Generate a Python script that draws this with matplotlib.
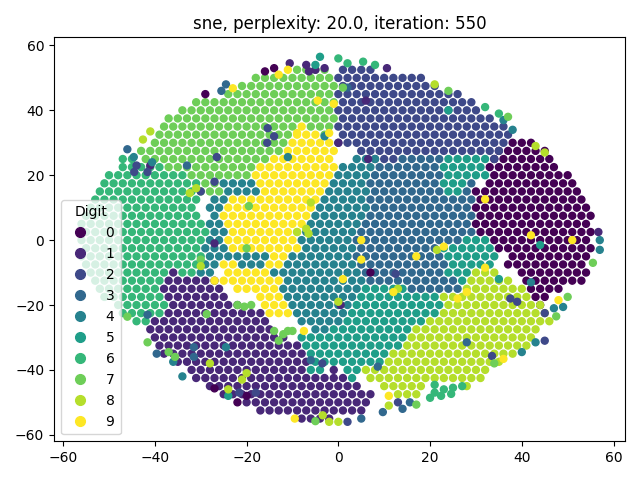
import matplotlib
matplotlib.use("Agg")
import matplotlib.pyplot as plt
import numpy as np

TITLE = "sne, perplexity: 20.0, iteration: 550"

d0 = {
30:[38,40,42],27.5:[35,37,39,41,43,45],25:[34,36,38,40,42,44,46],22.5:[33,35,37,39,41,43,45,47],
20:[34,36,38,40,42,44,46,48,50],17.5:[33,35,37,39,41,43,45,47,49,51],15:[30,32,34,36,38,40,42,44,46,48,50,52],
12.5:[31,33,35,37,39,41,43,45,47,49,51,53],10:[30,32,34,36,38,40,42,44,46,48,50,52,54],
7.5:[31,33,35,37,39,41,43,45,47,49,51,53,55],5:[30,32,34,36,38,40,42,44,46,48,50,52,54],
2.5:[31,33,35,37,39,41,43,45,47,49,51,53,55],0:[34,36,38,40,42,44,46,48,50,52,54],
-2.5:[35,37,39,41,43,45,47,49,51,53,55],-5:[38,40,42,44,46,48,50,52,54],-7.5:[37,39,41,43,45,47,49,51,53],
-10:[40,42,44,46,48,50,52,54],-12.5:[41,43,45,47,49,51,53],-15:[42,44,46,48],-17.5:[43,45],-20:[44]}
d1 = {
-10:[-36],-12.5:[-37,-35,-33,-31,-29,-27],-15:[-38,-36,-34,-32,-30,-28,-26],
-17.5:[-37,-35,-33,-31,-29,-27,-25],-20:[-36,-34,-32,-30,-28,-26,-24,-22],
-22.5:[-37,-35,-33,-31,-29,-27,-25,-23,-21,-19,-17],-25:[-40,-38,-36,-34,-32,-30,-28,-26,-24,-22,-20,-18,-16],
-27.5:[-41,-39,-37,-35,-33,-31,-29,-27,-25,-23,-21,-19,-17,-15],
-30:[-40,-38,-36,-34,-32,-30,-28,-26,-24,-22,-20,-18,-16,-14,-12],
-32.5:[-39,-37,-35,-33,-31,-29,-27,-25,-23,-21,-19,-17,-15,-13,-11,-9],
-35:[-38,-36,-34,-32,-30,-28,-26,-24,-22,-20,-18,-16,-14,-12,-10,-8],
-37.5:[-35,-33,-31,-29,-27,-25,-23,-21,-19,-17,-15,-13,-11,-9,-7],
-40:[-32,-30,-28,-26,-24,-22,-20,-18,-16,-14,-12,-10,-8,-1],
-42.5:[-31,-29,-27,-25,-23,-21,-19,-17,-15,-13,-11,-9,-7,-5,-3,-1,1],
-45:[-28,-26,-24,-22,-20,-18,-16,-14,-12,-10,-8,-6,-4,-2,0,2,4],
-47.5:[-25,-23,-21,-19,-17,-15,-13,-11,-9,-7,-5,-3,-1,1,3,5,7],
-50:[-20,-18,-16,-14,-12,-10,-8,-6,-4,-2,0,2,4,6],
-52.5:[-17,-15,-13,-11,-9,-7,-5,-3,-1,1,3,5],-55:[-8,-6,-4,-2]}
d2 = {
52.5:[1,3,5,7],50:[0,2,4,6,8,10,12,14,16,18],47.5:[1,3,5,7,9,11,13,15,17,19,21],
45:[0,2,4,6,8,10,12,14,16,18,20,22,24,26],42.5:[1,3,5,7,9,11,13,15,17,19,21,23,25,27,29],
40:[0,2,4,6,8,10,12,14,16,18,20,22,24,26,28,30],37.5:[1,3,5,7,9,11,13,15,17,19,21,23,25,27,29,31,33],
35:[0,2,4,6,8,10,12,14,16,18,20,22,24,26,28,30,32,34,36],32.5:[1,3,5,7,9,11,13,15,17,19,21,23,25,27,29,31,33,35,37],
30:[0,2,4,6,8,10,12,14,16,18,20,22,24,26,28,30,32,34,36],27.5:[5,7,9,11,13,15,17,19,21,23,25,27,29,31,33,35],
25:[8,10,12,34]}
d3 = {
25:[14,16,18,20,22],22.5:[9,11,13,15,17,19,21],20:[8,10,12,14,16,18,20,22],17.5:[7,9,11,13,15,17,19,21,29],
15:[8,10,12,14,16,18,20,22,28],12.5:[7,9,11,13,15,17,19,21,23,25,27,29],10:[8,10,12,14,16,18,20,22,24,26,28],
7.5:[7,9,11,13,15,17,19,21,23,25,27,29],5:[6,8,10,12,14,16,18,20,22,24,26,28],
2.5:[5,7,9,11,13,15,17,19,21,23,25,27,29],0:[4,6,8,10,12,14,16,18,20,22,24,26],
-2.5:[5,7,9,11,13,15,17,19,21],-5:[4,6,8,10,12,14,16,18,20,22],-7.5:[5,7,9,11,13,15,17,19,21,23],
-10:[6,8,10,12,14,16,18,20,22],-12.5:[7,9,11,13,15,17,19,21,23,25],-15:[16,18,20,22,24,26]}
d4 = {
25:[4,6,8],22.5:[1,3,5,7],20:[0,2,4,6],17.5:[-25,-23,-21,-19,-1,1,3,5],15:[-24,-22,-20,-18,-2,0,2,4,6],
12.5:[-27,-25,-3,-1,1,3,5],10:[-28,-26,-4,-2,0,2,4,6],7.5:[-27,-5,-3,-1,1,3,5],5:[-28,-26,-6,-4,-2,0,2,4],
2.5:[-27,-25,-7,-5,-3,-1,1,3],0:[-28,-26,-8,-6,-4,-2,0,2],-2.5:[-29,-27,-25,-7,-5,-3,-1,1,3],
-5:[-28,-26,-24,-22,-20,-18,-16,-10,-8,-6,-4,-2,0,2],-7.5:[-29,-27,-21,-19,-17,-11,-9,-7,-5,-3,-1,1,3],
-10:[-30,-28,-14,-12,-10,-8,-6,-4,-2,0,2,4],-12.5:[-11,-9,-7,-5,-3,-1,1,3,5],
-15:[-12,-10,-8,-6,-4,-2,0,2,4],-17.5:[-11,-9,-7,-5,-3,-1,1,3],-20:[-10,-8,-6,-4,-2,0,2],
-22.5:[-9,-7,-5,-3,-1,1],-25:[-8,-6,-4,-2,0],-27.5:[-5,-3]}
d5 = {
25:[24,26,28,30,32],22.5:[23,25,27,29,31],20:[24,26,28,30,32],17.5:[23,25,27],15:[24,26],0:[28,30,32],
-2.5:[23,25,27,29,31,33],-5:[24,26,28,30,32,34],-7.5:[25,27,29,31,33],-10:[24,26,28],-12.5:[27],
-15:[6,8,10,12,14],-17.5:[5,7,9,11,13,15,17,19,21],-20:[4,6,8,10,12,14,16,18,20,22],
-22.5:[3,5,7,9,11,13,15,17,19,21],-25:[2,4,6,8,10,12,14,16,18],-27.5:[-1,1,3,5,7,9,11,13,15],
-30:[-8,-6,-4,-2,0,2,4,6,8,10,12,14],-32.5:[-7,-5,-3,-1,1,3,5,7,9,11,13],
-35:[-6,-4,-2,0,2,4,6,8,10],-37.5:[-5,-3,-1,1,3,5,7,9],-40:[-6,-4,2,4],-42.5:[3]}
d6 = {
25:[-47,-45],22.5:[-47,-45,-43,-41,-39],20:[-50,-48,-46,-44,-42,-40,-38,-36,-34],
17.5:[-51,-49,-47,-45,-43,-41,-39,-37,-35,-33,-31],15:[-52,-50,-48,-46,-44,-42,-40,-38,-36,-34,-32],
12.5:[-53,-51,-49,-47,-45,-43,-41,-39,-37,-35,-33,-31],10:[-54,-52,-50,-48,-46,-44,-42,-40,-38,-36,-34,-32],
7.5:[-55,-53,-51,-49,-47,-45,-43,-41,-39,-37,-35,-33,-31],5:[-56,-54,-52,-50,-48,-46,-44,-42,-40,-38,-36,-34,-32,-30],
2.5:[-55,-53,-51,-49,-47,-45,-43,-41,-39,-37,-35,-33,-31,-29],0:[-56,-54,-52,-50,-48,-46,-44,-42,-40,-38,-36,-34,-32,-30],
-2.5:[-55,-53,-51,-49,-47,-45,-43,-41,-39,-37,-35,-33,-31],-5:[-56,-54,-52,-50,-48,-46,-44,-42,-40,-38,-36,-34,-32,-30],
-7.5:[-55,-53,-51,-49,-47,-45,-43,-41,-39,-37,-35,-33,-31],-10:[-54,-52,-50,-48,-46,-44,-42,-40,-38,-34,-32],
-12.5:[-53,-51,-49,-47,-45,-43,-41,-39],-15:[-52,-50,-48,-46,-44,-42,-40],-17.5:[-51,-49,-47,-45,-43,-41,-39],
-20:[-48,-46,-44,-42,-40,-38],-22.5:[-47,-45,-43,-41,-39],-25:[-44,-42]}
d7 = {
52.5:[-9,-7,-5,-3],50:[-18,-16,-14,-12,-10,-8,-6,-4,-2],47.5:[-21,-19,-17,-15,-13,-11,-9,-7,-5,-3,-1],
45:[-24,-22,-20,-18,-16,-14,-12,-10,-8,-6,-4,-2],42.5:[-31,-29,-27,-25,-23,-21,-19,-17,-15,-13,-11,-9,-7,-5,-3,-1],
40:[-34,-32,-30,-28,-26,-24,-22,-20,-18,-16,-14,-12,-10,-8,-6,-4,-2],
37.5:[-37,-35,-33,-31,-29,-27,-25,-23,-21,-19,-17,-15,-13,-11,-9,-7,-5,-3,-1],
35:[-38,-36,-34,-32,-30,-28,-26,-24,-22,-20,-18,-16,-14,-12,-10,-6,-4,-2],
32.5:[-39,-37,-35,-33,-31,-29,-27,-25,-23,-21,-19,-17,-15,-13,-11,-3],
30:[-40,-38,-36,-34,-32,-30,-28,-26,-24,-22,-20,-18,-16,-14,-12],
27.5:[-43,-41,-39,-37,-35,-33,-31,-29,-27,-25,-23,-21,-19,-17,-15,-13],
25:[-42,-40,-38,-36,-34,-32,-30,-28,-26,-24,-22,-20,-18,-16],
22.5:[-37,-35,-33,-31,-29,-27,-25,-23,-21,-19],20:[-32,-30,-28,-26,-24,-22,-20],17.5:[-29,-27],15:[-30,-28,-26]}
d8 = {
-10:[30,32,34],-12.5:[29,31,33,35,37],-15:[28,30,32,34,36,38,40],-17.5:[23,25,27,29,31,33,35,37,39,41],
-20:[24,26,28,30,32,34,36,38,40,42,44],-22.5:[23,25,27,29,31,33,35,37,39,41,43,45],
-25:[20,22,24,26,28,30,32,34,36,38,40,42,44,46],-27.5:[17,19,21,23,25,27,29,31,33,35,37,39,41,43],
-30:[16,18,20,22,24,26,28,30,32,34,36,38,40,42],-32.5:[15,17,19,21,23,25,27,29,31,33,35,37,39,41],
-35:[12,14,16,18,20,22,24,26,28,30,32,34,36,38],-37.5:[11,13,15,17,19,21,23,25,27,29,31,33,35],
-40:[6,8,10,12,14,16,18,20,22,24,26,28,30,32],-42.5:[7,9,11,13,15,17,19,21,23,25,27,29,31],
-45:[10,12,14,16,18,28],-47.5:[13,15,17]}
d9 = {
35:[-8],32.5:[-9,-7,-5],30:[-10,-8,-6,-4,-2],27.5:[-11,-9,-7,-5,-3,-1],25:[-14,-12,-10,-8,-6,-4,-2],
22.5:[-17,-15,-13,-11,-9,-7,-5,-3,-1],20:[-18,-16,-14,-12,-10,-8,-6,-4,-2],17.5:[-17,-15,-13,-11,-9,-7,-5,-3],
15:[-16,-14,-12,-10,-8,-6,-4],12.5:[-23,-21,-19,-17,-15,-13,-11,-9,-7,-5],10:[-24,-22,-20,-18,-16,-14,-12,-10,-8,-6],
7.5:[-25,-23,-21,-19,-17,-15,-13,-11,-9,-7],5:[-24,-22,-20,-18,-16,-14,-12,-10,-8],
2.5:[-23,-21,-19,-17,-15,-13,-11,-9],0:[-24,-22,-20,-18,-16,-14,-12,-10],-2.5:[-23,-21,-19,-17,-15,-13,-11,-9],
-5:[-14,-12],-7.5:[-25,-23,-15,-13],-10:[-24,-22,-20,-18,-16],-12.5:[-27,-25,-23,-21,-19,-17,-15,-13],
-15:[-22,-20,-18,-16,-14],-17.5:[-17,-15,-13],-20:[-16,-14,-12],-22.5:[-15,-13,-11]}

digit_rows = [d0, d1, d2, d3, d4, d5, d6, d7, d8, d9]

s0 = [(-29,45),(-16,52),(-14,53),(-27,-45.7),(-22,-50),(-20,-48),(7,-10)]
s1 = [(-10.6,54.5),(-7,54),(-6.4,52),(-5,52.5),(-3,53),(-41,23),(-27,-1),(10.6,53),(6,43),(0,30),(6.5,25),(56.7,2.5),(0.5,-20)]
s2 = [(-15.4,34.5),(-14,32),(-15.5,30),(-26.5,25.6),(-30,15),(-27,18),(-44,23),(-44.5,21),(-41.6,21),(12.5,-10.4),(37.5,-18),(39,-19),(45,-22.5),(45,-31),(33.5,-35.7),(13,-50),(-21.6,-47),(-18,-47),(2,-56),(-3.5,-38)]
s3 = [(-24.5,48),(-25.5,46),(-46,28),(-33,23),(-41.6,-23),(-39.6,-35),(-31.5,-33),(-31.5,-36),(2,47),(28,-31.5),(8.6,-39),(15.6,-50),(14,-52),(9.7,-53),(5,-55),(-6,-37)]
s4 = [(-44.6,25.6),(-40.6,24),(-36,-37.5),(-34,-42),(-24.5,-33),(-11,25.6),(-3,32),(38,34),(36,37),(43,-31.5),(40,-34.5),(49,-20.6),(47,-21),(57,-3),(57,0),(42,-13)]
s5 = [(24,40),(-24,-48),(-4,56.5),(-5,54),(44,-1.5),(35,-12)]
s6 = [(0,56),(2,54.5),(5.4,55),(8,54),(32,41),(35,39),(21,-44.6),(20,-48.6),(22.4,-48),(24.6,-47.4),(25,-45.5),(23,-46),(21,-47),(27,-45)]
s7 = [(24,46),(37,38),(1,47),(-41.6,-31.5),(-37,-34.5),(-35.6,-36),(-46,-23.6),(-28.7,-22.8),(-20,-2.5),(-5,-55.8),(50,-17.5),(55.5,-7),(47.5,-23.5),(34,-38),(17,-50.7),(-19.5,10.5),(-22,-20),(-20.5,-20.5),(-19,-20),(-14,-28),(-12,-29),(-13,-31),(-11,-28),(-10,-28),(-30,-6)]
s8 = [(-41,33.5),(-42.6,31),(-32.4,14.5),(-31,16),(-6,11.6),(-9,2.5),(-6.5,2),(-7,3.5),(-30,-8),(-28,-38),(-24,-46),(-21,-43),(-20,-41),(-3.4,-54),(-2,-56),(0,-56),(21,48),(43,29),(45,27),(0,-19),(11,-51),(21.5,-3),(13,-15)]
s9 = [(-23,46.8),(-13,51),(-11,52.5),(-4.5,43),(-1,42),(-2,33),(-9,33),(32,12.6),(42,1.5),(51,0),(11,-48),(36,-36.6),(48,-18.5),(32,-8.5),(26,-18),(28,-16),(5,-6),(1,-12),(17,-5),(23,-2),(12,-16),(5,0),(-7.5,-28),(-9.5,-55)]
digit_strays = [s0, s1, s2, s3, s4, s5, s6, s7, s8, s9]

xs, ys, cs = [], [], []
for digit, rows in enumerate(digit_rows):
    for y, row in rows.items():
        for x in row:
            xs.append(x); ys.append(y); cs.append(digit)
for digit, strays in enumerate(digit_strays):
    for x, y in strays:
        xs.append(x); ys.append(y); cs.append(digit)

fig, ax = plt.subplots(figsize=(6.4, 4.8), dpi=100)
sc = ax.scatter(xs, ys, c=cs, cmap="viridis", vmin=0, vmax=9, s=25, linewidths=1.0)
ax.set_xlim(-62, 62.5)
ax.set_ylim(-62, 62.5)
ax.set_title(TITLE)
handles, labels = sc.legend_elements(prop="colors", num=list(range(10)), size=7)
ax.legend(handles, labels, title="Digit", loc="lower left")
fig.tight_layout()
fig.savefig("out.png", dpi=100)
